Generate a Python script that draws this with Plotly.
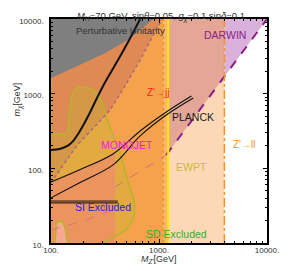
import numpy as np
import plotly.graph_objects as go

# ---------------- data (M_Z' in GeV, m_chi in GeV) ----------------
x_ticks = [100, 1000, 10000]
x_tick_labels = ["100.", "1000.", "10000."]
y_ticks = [10, 100, 1000, 10000]
y_tick_labels = ["10.", "100.", "1000.", "10000."]

# Perturbative unitarity boundary
unit_mz = [100, 182, 318, 511, 696, 893]
unit_mx = [1623, 2400, 3505, 5236, 7577, 10000]

# dotted contour
dot_mz = [100, 136.3, 174.7, 248.1, 352.5, 490.5, 668.5, 856.5, 1075]
dot_mx = [63.8, 121.8, 205.7, 347.4, 605.1, 1308, 2826, 5567, 10000]

# SD excluded contour
sd_mz = [100, 139.2, 148.1, 157.5, 174.7, 201.8, 233.2, 263.9, 298.7, 324.5,
         359.8, 390.8, 442.3, 511.1, 590.6, 578.5, 511.1, 442.3, 352.5, 305.0]
sd_mx = [297.8, 297.8, 551.4, 960.7, 1192, 1229, 1156, 1022, 750.7, 487.6,
         326.7, 240.0, 151.1, 69.9, 34.4, 21.7, 15.9, 13.7, 11.3, 10]
sd_edge_mx = [1623, 297.8]
sd_hole_mz = [108.6, 110.9, 113.2, 128.1, 136.3, 142.0]
sd_hole_mx = [10, 15.0, 19.2, 19.2, 15.0, 10]

# monojet-like thick black contour
mono_mz = [100, 120.4, 142.0, 160.8, 178.3, 201.8, 233.2, 269.4, 317.8,
           382.8, 470.8, 566.7, 668.5]
mono_mx = [176.3, 181.9, 199.5, 232.8, 288.8, 392.9, 586.7, 903.2, 1434,
           2277, 3846, 6298, 10000]

# double contour ending at PLANCK
pl_up_mz = [100, 182.0, 375.0, 668.5, 1168, 1997]
pl_up_mx = [65.8, 95.2, 155.9, 316.7, 568.9, 931.4]
pl_lo_mz = [100, 182.0, 375.0, 668.5, 1168, 2081]
pl_lo_mx = [40.2, 63.8, 111.1, 271.5, 518.6, 876.0]

# SI excluded line
si_mz = [100, 415.8]
si_mx = [35.5, 35.5]

# relic (DARWIN / PLANCK) dashed curve
relic_a_mz = [100, 139.2, 223.8, 390.8]
relic_a_mx = [15.0, 16.9, 21.0, 28.6]
relic_b_mz = [390.8, 1168]
relic_b_mx = [56.4, 151.1]
relic_c_mz = [1168, 10000]
relic_c_mx = [151.1, 10000]

# vertical bounds
mz_jj = 1098
mz_ewpt = 1217
mz_ll = 4031
mz_pink = 390.8
pink_mx = [326.7, 10]

MZ_MIN, MZ_MAX = 100, 10000
MX_MIN, MX_MAX = 10, 10000


def log_interp(x, xs, ys):
    return 10 ** np.interp(np.log10(x), np.log10(xs), np.log10(ys))


fig = go.Figure()


def poly(xs, ys, color, smooth=False):
    fig.add_trace(go.Scatter(x=list(xs), y=list(ys), mode="lines", fill="toself",
                             fillcolor=color, line=dict(width=0, color=color,
                             shape="spline" if smooth else "linear"),
                             hoverinfo="skip"))


def line(xs, ys, color, width=1, dash="solid", smooth=False):
    fig.add_trace(go.Scatter(x=list(xs), y=list(ys), mode="lines",
                             line=dict(color=color, width=width, dash=dash,
                                       shape="spline" if smooth else "linear"),
                             hoverinfo="skip"))


y_ll = log_interp(mz_ll, relic_c_mz, relic_c_mx)

poly([MZ_MIN, mz_ll, mz_ll, MZ_MIN], [MX_MIN, MX_MIN, MX_MAX, MX_MAX], "#FDD8B6")
poly([relic_c_mz[0], mz_ll, mz_ll, relic_c_mz[0]],
     [relic_c_mx[0], y_ll, MX_MAX, MX_MAX], "#E3A697")
poly([mz_ll, relic_c_mz[1], mz_ll], [y_ll, relic_c_mx[1], MX_MAX], "#D9B1DA")
poly([mz_jj, mz_ewpt, mz_ewpt, mz_jj], [MX_MIN, MX_MIN, MX_MAX, MX_MAX], "#F8B675")
poly([MZ_MIN, mz_jj, mz_jj, MZ_MIN], [MX_MIN, MX_MIN, MX_MAX, MX_MAX], "#F4A24C")
poly([MZ_MIN] + dot_mz + [MZ_MIN], [MX_MAX] + dot_mx + [MX_MAX],
     "rgba(140,40,120,0.2)")
poly(sd_mz + [MZ_MIN], sd_mx + [MX_MIN], "rgba(190,190,40,0.3)")
y_up_pink = log_interp(mz_pink, pl_up_mz, pl_up_mx)
pts_x = [m for m in pl_up_mz if m < mz_pink] + [mz_pink, mz_pink, MZ_MIN]
pts_y = [v for m, v in zip(pl_up_mz, pl_up_mx) if m < mz_pink] + [y_up_pink, MX_MIN, MX_MIN]
poly(pts_x, pts_y, "rgba(255,100,160,0.3)")
poly(sd_hole_mz, sd_hole_mx, "#F7A890")
poly([MZ_MIN] + unit_mz, [MX_MAX] + unit_mx, "#7F7F7F")

line([MZ_MIN, MZ_MIN], sd_edge_mx, "#B8B428", 1.5)
line(sd_mz, sd_mx, "#B8B428", 1.5, smooth=True)
line(sd_hole_mz, sd_hole_mx, "#B8B428", 1.5)
line(dot_mz, dot_mx, "#A0608A", 1.3, "dot")
line(relic_a_mz, relic_a_mx, "#E0707A", 1, "dash")
line(relic_b_mz, relic_b_mx, "#D0707A", 1, "dash")
line([mz_pink, mz_pink], pink_mx, "#F4908A", 1, "dash")
line(relic_c_mz, relic_c_mx, "#8B1C8B", 2, "dash")
line([mz_jj, mz_jj], [MX_MIN, MX_MAX], "#F7941D", 1.5, "dot")
line([mz_ewpt, mz_ewpt], [MX_MIN, MX_MAX], "#FFE800", 2)
line([mz_ll, mz_ll], [MX_MIN, MX_MAX], "#F7941D", 1.5, "dashdot")
line(mono_mz, mono_mx, "#111111", 2, smooth=True)
line(pl_up_mz, pl_up_mx, "#111111", 1.1, smooth=True)
line(pl_lo_mz, pl_lo_mx, "#111111", 1.1, smooth=True)
line(si_mz, si_mx, "#3A2010", 3)
line(si_mz, si_mx, "#A0704A", 1)

FONT = "Liberation Sans, Arial, sans-serif"
labels = [
    ("Perturbative Unitarity", 441, 7123, "#333333", 9.5),
    ("DARWIN", 4074, 6110, "#8B1C8B", 10.5),
    ("Z'→jj", 980, 1022, "#FF2020", 10),
    ("PLANCK", 2060, 488, "#1A1A1A", 10.5),
    ("MONOJET", 506, 206, "#FF10F0", 10.5),
    ("EWPT", 2018, 104, "#C8BC30", 10.5),
    ("Z'→ll", 6093, 206, "#F7941D", 10),
    ("SI Excluded", 305, 30.4, "#2020E0", 10.5),
    ("SD Excluded", 1465, 13.2, "#30B030", 10.5),
]
for txt, xv, yv, col, sz in labels:
    fig.add_annotation(x=np.log10(xv), y=np.log10(yv), xref="x", yref="y",
                       text=txt, showarrow=False, font=dict(color=col, size=sz, family=FONT))

fig.add_annotation(xref="paper", yref="paper", x=0.511, y=1.05, showarrow=False,
                   text="<i>M</i><sub><i>H</i></sub>=70 GeV, sin<i>θ</i>=0.05, "
                        "<i>g</i><sub><i>χ</i></sub>=0.1,sin<i>δ</i>=0.1",
                   font=dict(size=9.5, color="#333333", family=FONT))
fig.add_annotation(xref="paper", yref="paper", x=-0.19, y=0.64, showarrow=False,
                   textangle=-90, text="<i>m</i><sub><i>χ</i></sub>[GeV]",
                   font=dict(size=9, color="#333333", family=FONT))
fig.add_annotation(xref="paper", yref="paper", x=0.5, y=-0.107, showarrow=False,
                   text="<i>M</i><sub><i>Z'</i></sub>[GeV]",
                   font=dict(size=9, color="#333333", family=FONT))

x_minor = [k * 10 ** d for d in (2, 3) for k in range(2, 10)]
y_minor = [k * 10 ** d for d in (1, 2, 3) for k in range(2, 10)]

axis_common = dict(type="log", ticks="inside", ticklen=4, tickcolor="black",
                   showline=True, linecolor="black", linewidth=1.5, mirror="allticks",
                   showgrid=False, zeroline=False, tickmode="array",
                   tickfont=dict(size=8, color="#333333", family=FONT))
fig.update_xaxes(range=[2, 4], tickvals=x_ticks, ticktext=x_tick_labels,
                 ticklabelstandoff=-1,
                 minor=dict(tickmode="array", tickvals=x_minor, ticks="inside",
                            ticklen=2, tickcolor="black", showgrid=False),
                 **axis_common)
fig.update_yaxes(range=[1, 4], tickvals=y_ticks, ticktext=y_tick_labels,
                 ticklabelshift=2, ticklabelstandoff=4,
                 minor=dict(tickmode="array", tickvals=y_minor, ticks="inside",
                            ticklen=2, tickcolor="black", showgrid=False),
                 **axis_common)

fig.update_layout(width=291, height=271, margin=dict(l=51, r=17, t=19, b=28),
                  plot_bgcolor="white", paper_bgcolor="white", showlegend=False,
                  font=dict(family=FONT, size=9, color="#333333"))

fig.write_html("out.html", config={"displayModeBar": False},
               post_script="document.body.style.margin='0';document.body.style.overflow='hidden';")
